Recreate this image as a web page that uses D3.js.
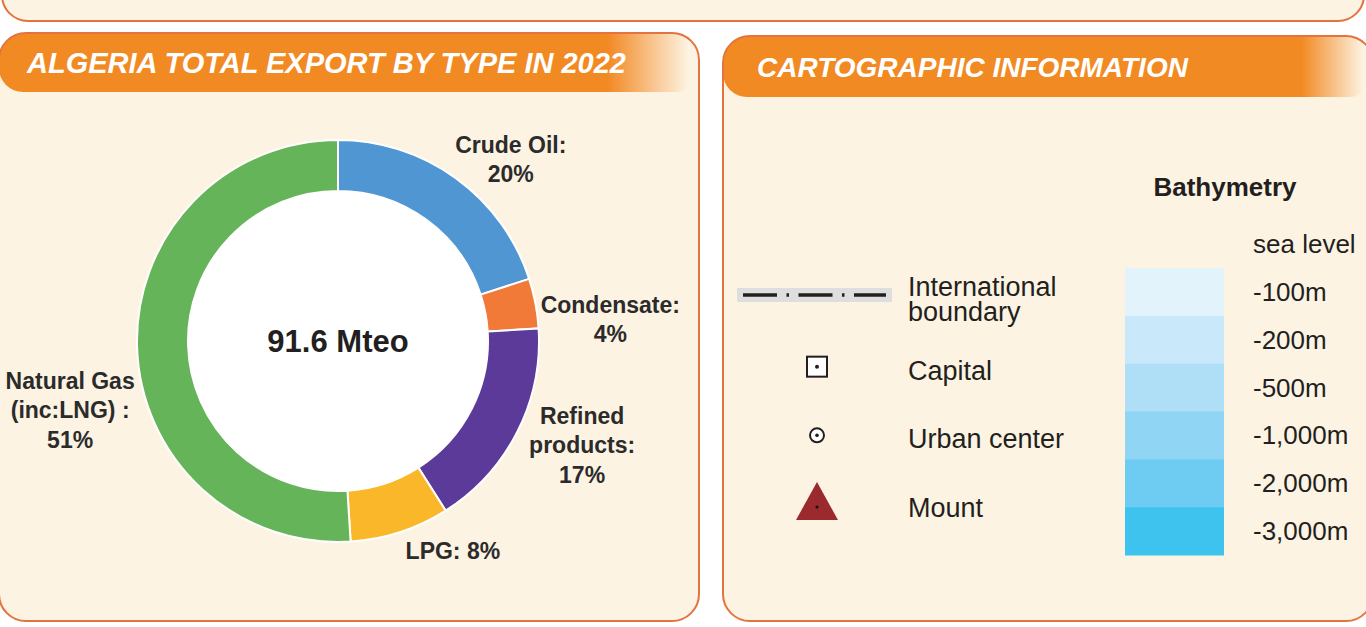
<!DOCTYPE html>
<html>
<head>
<meta charset="utf-8">
<script src="https://cdn.jsdelivr.net/npm/d3@7"></script>
<style>
  html, body { margin: 0; padding: 0; background: #fff; }
  svg { display: block; font-family: "Liberation Sans", Arial, sans-serif; }
</style>
</head>
<body>
<svg id="chart" width="1366" height="627"></svg>
<script>

// ---- data ----
const sliceNames   = ["Crude Oil:", "Condensate:", "Refined\nproducts:", "LPG:", "Natural Gas\n(inc:LNG) :"];
const sliceValues  = [20, 4, 17, 8, 51];
const sliceColors  = ["#5096d3", "#f27a38", "#5b3a9a", "#fbb72a", "#66b459"];
const totalLabel   = "91.6 Mteo";

const symbolNames  = ["International\nboundary", "Capital", "Urban center", "Mount"];
const depthLabels  = ["-100m", "-200m", "-500m", "-1,000m", "-2,000m", "-3,000m"];
const depthColors  = ["#e3f3fc", "#c9e9fa", "#aedff7", "#90d5f4", "#6ecbf2", "#3ec3ef"];
const seaLabel     = "sea level";

const titles = ["ALGERIA TOTAL EXPORT BY TYPE IN 2022", "CARTOGRAPHIC INFORMATION"];

// ---- layout ----
const ink = "#231f20";
const cream = "#fdf3e2";
const border = "#e3743f";
const orange = "#f28a24";

const svg = d3.select("#chart");
const defs = svg.append("defs");

// top strip (rest of it is cut off)
svg.append("rect")
    .attr("x", 2).attr("y", -60).attr("width", 1362).attr("height", 81)
    .attr("rx", 26)
    .attr("fill", cream).attr("stroke", border).attr("stroke-width", 2);

const panels = [
  {id: "exp",   x: -1,  y: 33, w: 700, h: 588, headH: 59, fade: 0.87, title: titles[0], tx: 27,  ty: 73, fs: 29},
  {id: "carto", x: 723, y: 36, w: 650, h: 585, headH: 61, fade: 0.89, title: titles[1], tx: 757, ty: 77, fs: 28}
];

panels.forEach(function(p) {
  let grad = defs.append("linearGradient")
      .attr("id", "grad-" + p.id)
      .attr("x1", 0).attr("x2", 1).attr("y1", 0).attr("y2", 0);
  grad.append("stop").attr("offset", 0).attr("stop-color", orange);
  grad.append("stop").attr("offset", p.fade).attr("stop-color", orange);
  grad.append("stop").attr("offset", 0.985).attr("stop-color", orange).attr("stop-opacity", 0);

  defs.append("clipPath").attr("id", "clip-" + p.id)
    .append("rect")
      .attr("x", p.x).attr("y", p.y).attr("width", p.w).attr("height", p.h).attr("rx", 27);

  svg.append("rect")
      .attr("x", p.x).attr("y", p.y).attr("width", p.w).attr("height", p.h)
      .attr("rx", 27)
      .attr("fill", cream);

  svg.append("rect")
      .attr("clip-path", "url(#clip-" + p.id + ")")
      .attr("x", p.x).attr("y", p.y).attr("width", p.w).attr("height", p.headH)
      .attr("rx", 24)
      .attr("fill", "url(#grad-" + p.id + ")");

  svg.append("rect")
      .attr("x", p.x).attr("y", p.y).attr("width", p.w).attr("height", p.h)
      .attr("rx", 27)
      .attr("fill", "none").attr("stroke", border).attr("stroke-width", 2);

  svg.append("text")
      .attr("x", p.tx).attr("y", p.ty)
      .attr("fill", "#fff")
      .attr("font-size", p.fs)
      .attr("font-weight", "bold")
      .attr("font-style", "italic")
      .text(p.title);
});

// ---- donut ----
const cx = 338, cy = 341;
const rIn = 150, rOut = 201;

const pie = d3.pie().sort(null).value(function(d) { return d; });
const arcs = pie(sliceValues);
const arc = d3.arc().innerRadius(rIn).outerRadius(rOut);
const labelArc = d3.arc().innerRadius(265).outerRadius(265);

// nudges from the label arc centroid, to sit labels like the original
const labelNudge = [[17, 33], [12, 28], [8, -16], [33, -42], [-3, 61]];
const inlinePct = [false, false, false, true, false];

const donut = svg.append("g").attr("transform", "translate(" + cx + "," + cy + ")");

donut.append("circle").attr("r", rIn).attr("fill", "#fff");

donut.selectAll("path.slice")
  .data(arcs)
  .enter().append("path")
    .attr("class", "slice")
    .attr("d", arc)
    .attr("fill", function(d, i) { return sliceColors[i]; })
    .attr("stroke", "#fff")
    .attr("stroke-width", 2);

donut.append("text")
    .attr("text-anchor", "middle")
    .attr("y", 11)
    .attr("font-size", 31)
    .attr("font-weight", "bold")
    .attr("fill", ink)
    .text(totalLabel);

const lineH = 29.5;
donut.selectAll("text.lbl")
  .data(arcs)
  .enter().append("text")
    .attr("class", "lbl")
    .attr("text-anchor", "middle")
    .attr("font-size", 23)
    .attr("font-weight", "bold")
    .attr("fill", "#2b2b2b")
    .each(function(d, i) {
      let c = labelArc.centroid(d);
      let x = c[0] + labelNudge[i][0];
      let y = c[1] + labelNudge[i][1];
      let pct = d.data + "%";
      let lines = sliceNames[i].split("\n");
      if (inlinePct[i]) lines[lines.length - 1] += " " + pct;
      else lines.push(pct);
      let y0 = y - (lines.length - 1) * lineH / 2 + 8;
      d3.select(this).selectAll("tspan")
        .data(lines)
        .enter().append("tspan")
          .attr("x", x)
          .attr("y", function(l, j) { return y0 + j * lineH; })
          .text(function(l) { return l; });
    });

// ---- cartographic legend ----
const symX = 817, symTextX = 908;
const symY = d3.scalePoint().domain(symbolNames).range([296, 502]);

const leg = svg.append("g").attr("fill", ink).attr("font-size", 27);

symbolNames.forEach(function(name, i) {
  let y = symY(name);
  let lines = name.split("\n");
  leg.append("text")
    .selectAll("tspan")
    .data(lines)
    .enter().append("tspan")
      .attr("x", symTextX)
      .attr("y", function(l, j) { return (i === 0 ? y : y + 15) + j * 25; })
      .text(function(l) { return l; });
});

// boundary line
let yb = symY(symbolNames[0]) - 1;
leg.append("rect")
    .attr("x", 737).attr("y", yb - 7).attr("width", 155).attr("height", 14)
    .attr("fill", "#dedede");
leg.append("line")
    .attr("x1", 743).attr("x2", 886).attr("y1", yb).attr("y2", yb)
    .attr("stroke", ink).attr("stroke-width", 3.5)
    .attr("stroke-dasharray", "34,9.5,2.5,9.5");

// capital
let yc = symY(symbolNames[1]) + 2;
leg.append("rect")
    .attr("x", symX - 10).attr("y", yc - 10).attr("width", 20).attr("height", 20)
    .attr("fill", "#fff").attr("stroke", ink).attr("stroke-width", 2);
leg.append("circle").attr("cx", symX).attr("cy", yc).attr("r", 2).attr("fill", ink);

// urban center
let yu = symY(symbolNames[2]) + 2;
leg.append("circle").attr("cx", symX).attr("cy", yu).attr("r", 7)
    .attr("fill", "#fff").attr("stroke", ink).attr("stroke-width", 2);
leg.append("circle").attr("cx", symX).attr("cy", yu).attr("r", 1.8).attr("fill", ink);

// mount
let ym = symY(symbolNames[3]);
leg.append("path")
    .attr("d", d3.line()([[symX - 21, ym + 18], [symX, ym - 20], [symX + 21, ym + 18]]) + "Z")
    .attr("fill", "#9a2a2e");
leg.append("circle").attr("cx", symX).attr("cy", ym + 5).attr("r", 1.5).attr("fill", "#111");

// ---- bathymetry ----
svg.append("text")
    .attr("x", 1225).attr("y", 196)
    .attr("text-anchor", "middle")
    .attr("font-size", 26)
    .attr("font-weight", "bold")
    .attr("fill", ink)
    .text("Bathymetry");

const band = d3.scaleBand().domain(depthLabels).range([268, 555]);

svg.selectAll("rect.depth")
  .data(depthLabels)
  .enter().append("rect")
    .attr("class", "depth")
    .attr("x", 1125).attr("width", 99)
    .attr("y", function(d) { return band(d); })
    .attr("height", band.bandwidth() + 0.5)
    .attr("fill", function(d, i) { return depthColors[i]; });

const depthText = svg.append("g").attr("font-size", 26).attr("fill", ink);

depthText.append("text")
    .attr("x", 1253)
    .attr("y", band(depthLabels[0]) + band.bandwidth() / 2 - band.step() + 9)
    .text(seaLabel);

depthText.selectAll("text.dl")
  .data(depthLabels)
  .enter().append("text")
    .attr("class", "dl")
    .attr("x", 1253)
    .attr("y", function(d) { return band(d) + band.bandwidth() / 2 + 9; })
    .text(function(d) { return d; });

</script>
</body>
</html>
